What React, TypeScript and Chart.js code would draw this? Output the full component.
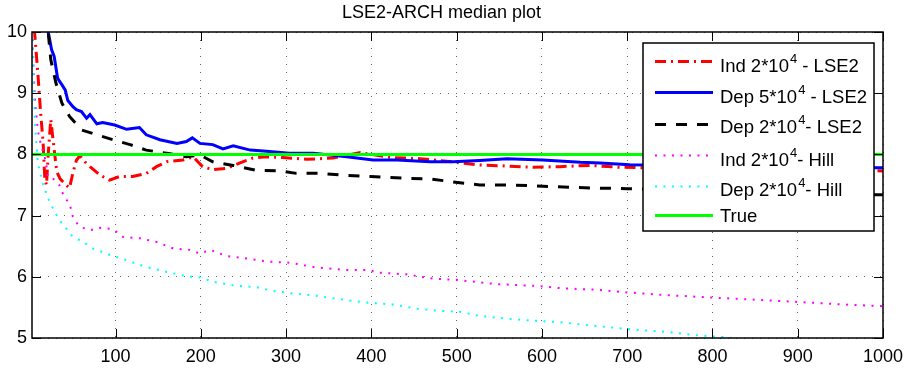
import React, { useEffect, useRef } from 'react';
import { Chart, registerables } from 'chart.js';

Chart.register(...registerables);

const TITLE = 'LSE2-ARCH median plot';
const X_TICKS = [100, 200, 300, 400, 500, 600, 700, 800, 900, 1000];
const Y_TICKS = [5, 6, 7, 8, 9, 10];
const X_MIN = 2;
const X_MAX = 1000;
const Y_MIN = 5;
const Y_MAX = 10;

// Ind 2*10^4 - LSE2 (red dash-dot)
const indLseX = [3, 5, 9, 12, 15, 17, 19, 21, 24, 27, 31, 35, 42, 46, 50, 54, 58, 64, 70, 82, 93, 105, 120, 136, 148, 160, 179, 191, 202, 214, 230, 246, 261, 277, 296, 324, 355, 387, 422, 457, 488, 523, 559, 590, 621, 656, 691, 730, 780, 830, 880, 940, 1000];
const indLseY = [10.8, 10.0, 9.3, 8.7, 8.2, 7.6, 7.5, 8.0, 8.57, 8.2, 7.72, 7.6, 7.5, 7.45, 7.7, 7.9, 7.98, 7.88, 7.8, 7.66, 7.58, 7.64, 7.64, 7.69, 7.8, 7.88, 7.91, 7.96, 7.8, 7.75, 7.77, 7.86, 7.94, 7.96, 7.95, 7.92, 7.94, 8.03, 7.95, 7.93, 7.89, 7.83, 7.81, 7.79, 7.8, 7.82, 7.79, 7.78, 7.8, 7.78, 7.76, 7.75, 7.73];

// Dep 5*10^4 - LSE2 (blue solid)
const dep5LseX = [15, 21, 25, 28, 32, 34, 37, 41, 44, 50, 54, 60, 66, 70, 78, 85, 99, 113, 128, 136, 152, 172, 183, 190, 199, 214, 226, 238, 258, 277, 304, 332, 371, 402, 430, 469, 496, 527, 559, 601, 645, 668, 703, 760, 820, 880, 1000];
const dep5LseY = [11.0, 10.0, 9.71, 9.6, 9.25, 9.2, 9.14, 9.05, 8.88, 8.78, 8.73, 8.7, 8.59, 8.65, 8.5, 8.52, 8.48, 8.41, 8.44, 8.32, 8.24, 8.18, 8.21, 8.27, 8.18, 8.16, 8.09, 8.14, 8.07, 8.05, 8.02, 8.02, 7.96, 7.91, 7.91, 7.88, 7.88, 7.9, 7.93, 7.91, 7.87, 7.86, 7.83, 7.82, 7.81, 7.79, 7.78];

// Dep 2*10^4 - LSE2 (black dashed)
const dep2LseX = [15, 21, 24, 30, 37, 46, 60, 78, 97, 117, 136, 164, 183, 199, 214, 238, 265, 293, 312, 340, 367, 399, 441, 469, 496, 527, 566, 601, 637, 664, 700, 760, 820, 880, 1000];
const dep2LseY = [11.0, 10.0, 9.55, 9.17, 8.84, 8.62, 8.4, 8.32, 8.24, 8.16, 8.07, 8.01, 7.96, 7.99, 7.88, 7.82, 7.74, 7.73, 7.69, 7.69, 7.66, 7.64, 7.61, 7.6, 7.55, 7.5, 7.5, 7.48, 7.46, 7.45, 7.44, 7.42, 7.39, 7.36, 7.34];

// Ind 2*10^4 - Hill (magenta dotted)
const indHillX = [2, 4, 6, 9, 12, 18, 21, 27, 34, 40, 46, 50, 56, 62, 70, 82, 97, 109, 128, 148, 168, 187, 199, 211, 230, 254, 277, 305, 332, 371, 398, 406, 441, 472, 500, 547, 594, 625, 664, 695, 746, 801, 844, 899, 950, 1000];
const indHillY = [10.3, 9.3, 8.8, 8.38, 8.19, 7.9, 7.62, 7.6, 7.5, 7.3, 7.2, 6.98, 6.85, 6.8, 6.76, 6.8, 6.78, 6.65, 6.63, 6.57, 6.46, 6.44, 6.38, 6.44, 6.34, 6.3, 6.25, 6.23, 6.16, 6.11, 6.11, 6.07, 6.04, 5.97, 5.95, 5.88, 5.85, 5.81, 5.79, 5.75, 5.7, 5.66, 5.63, 5.59, 5.55, 5.52];

// Dep 2*10^4 - Hill (cyan dotted)
const depHillX = [2, 4, 6, 9, 13, 15, 20, 24, 34, 42, 50, 62, 74, 93, 113, 136, 160, 183, 199, 214, 238, 265, 285, 312, 324, 371, 393, 424, 453, 484, 504, 523, 562, 594, 621, 652, 684, 713, 746, 785, 818, 835];
const depHillY = [10.3, 9.0, 8.4, 7.85, 7.62, 7.5, 7.32, 7.18, 6.93, 6.79, 6.65, 6.57, 6.46, 6.36, 6.27, 6.16, 6.08, 6.01, 5.99, 5.92, 5.86, 5.83, 5.77, 5.72, 5.71, 5.62, 5.58, 5.55, 5.48, 5.44, 5.43, 5.37, 5.31, 5.28, 5.26, 5.21, 5.17, 5.13, 5.1, 5.04, 5.01, 4.97];

// True value (green)
const trueX = [2, 1000];
const trueY = [8, 8];

const LEGEND_MAIN = ['Ind 2*10', 'Dep 5*10', 'Dep 2*10', 'Ind 2*10', 'Dep 2*10', 'True'];
const LEGEND_SUP = ['4', '4', '4', '4', '4', ''];
const LEGEND_TAIL = [' - LSE2', ' - LSE2', '- LSE2', '- Hill', '- Hill', ''];

const FONT = '"Liberation Sans", Arial, Helvetica, sans-serif';

const toPts = (xs: number[], ys: number[]) => xs.map((x, i) => ({ x, y: ys[i] }));

const STYLES = [
  { color: '#ff0000', width: 3, dash: [11, 5, 2, 5] },
  { color: '#0000ff', width: 3, dash: [] as number[] },
  { color: '#000000', width: 3, dash: [11, 10] },
  { color: '#ff00ff', width: 2, dash: [2, 6.5] },
  { color: '#00ffff', width: 2, dash: [2, 6.5] },
  { color: '#00ff00', width: 3, dash: [] as number[] },
];

const framePlugin = {
  id: 'frameTicks',
  afterDatasetsDraw(chart: any) {
    const { ctx, chartArea: a, scales } = chart;
    ctx.save();
    ctx.setLineDash([]);
    ctx.strokeStyle = '#000';
    ctx.lineWidth = 1.5;
    ctx.strokeRect(a.left, a.top, a.right - a.left, a.bottom - a.top);
    const L = 9;
    ctx.lineWidth = 1;
    ctx.beginPath();
    for (const v of X_TICKS) {
      const px = Math.round(scales.x.getPixelForValue(v)) + 0.5;
      ctx.moveTo(px, a.bottom);
      ctx.lineTo(px, a.bottom - L);
      ctx.moveTo(px, a.top);
      ctx.lineTo(px, a.top + L);
    }
    for (const v of Y_TICKS) {
      const py = Math.round(scales.y.getPixelForValue(v)) + 0.5;
      ctx.moveTo(a.left, py);
      ctx.lineTo(a.left + L, py);
      ctx.moveTo(a.right, py);
      ctx.lineTo(a.right - L, py);
    }
    ctx.stroke();
    ctx.restore();
  },
};

const legendPlugin = {
  id: 'matlabLegend',
  afterDraw(chart: any) {
    const ctx = chart.ctx;
    const box = { x: 643, y: 43, w: 231, h: 188 };
    const lineY = [61.5, 92.5, 124.5, 155.5, 186.5, 215.5];
    const baseY = [72, 103, 133, 166, 196, 222];
    ctx.save();
    ctx.fillStyle = '#fff';
    ctx.fillRect(box.x, box.y, box.w, box.h);
    ctx.strokeStyle = '#000';
    ctx.lineWidth = 1.5;
    ctx.setLineDash([]);
    ctx.strokeRect(box.x, box.y, box.w, box.h);
    for (let i = 0; i < LEGEND_MAIN.length; i++) {
      const st = STYLES[i];
      ctx.strokeStyle = st.color;
      ctx.lineWidth = st.width;
      ctx.setLineDash(st.dash);
      ctx.beginPath();
      ctx.moveTo(655, lineY[i]);
      ctx.lineTo(713, lineY[i]);
      ctx.stroke();
      ctx.setLineDash([]);
      ctx.fillStyle = '#000';
      ctx.textBaseline = 'alphabetic';
      ctx.textAlign = 'left';
      ctx.font = `18.5px ${FONT}`;
      let x = 720;
      ctx.fillText(LEGEND_MAIN[i], x, baseY[i]);
      x += ctx.measureText(LEGEND_MAIN[i]).width + 1;
      if (LEGEND_SUP[i]) {
        ctx.font = `13px ${FONT}`;
        ctx.fillText(LEGEND_SUP[i], x, baseY[i] - 9);
        x += ctx.measureText(LEGEND_SUP[i]).width;
        ctx.font = `18.5px ${FONT}`;
      }
      if (LEGEND_TAIL[i]) ctx.fillText(LEGEND_TAIL[i], x, baseY[i]);
    }
    ctx.restore();
  },
};

export default function App() {
  const ref = useRef<HTMLCanvasElement | null>(null);
  useEffect(() => {
    if (!ref.current) return;
    const labels = ['Ind 2*10^4 - LSE2', 'Dep 5*10^4 - LSE2', 'Dep 2*10^4- LSE2', 'Ind 2*10^4- Hill', 'Dep 2*10^4- Hill', 'True'];
    const series = [
      toPts(indLseX, indLseY),
      toPts(dep5LseX, dep5LseY),
      toPts(dep2LseX, dep2LseY),
      toPts(indHillX, indHillY),
      toPts(depHillX, depHillY),
      toPts(trueX, trueY),
    ];
    const orders = [6, 5, 4, 3, 2, 1];
    const datasets = series.map((data, i) => ({
      label: labels[i],
      data,
      borderColor: STYLES[i].color,
      backgroundColor: STYLES[i].color,
      borderWidth: STYLES[i].width,
      borderDash: STYLES[i].dash,
      pointRadius: 0,
      tension: 0,
      fill: false,
      order: orders[i],
    }));
    const tickFont = { family: FONT, size: 18 };
    const chart = new Chart(ref.current, {
      type: 'line',
      data: { datasets },
      options: {
        animation: false,
        responsive: false,
        devicePixelRatio: 1,
        layout: { padding: { left: 0, right: 29, top: 0, bottom: 0 } },
        plugins: {
          legend: { display: false },
          tooltip: { enabled: false },
          title: {
            display: true,
            text: TITLE,
            color: '#000',
            font: { family: FONT, size: 18, weight: 'normal', lineHeight: 1.2 },
            padding: { top: 2, bottom: 8.4 },
          },
        },
        scales: {
          x: {
            type: 'linear',
            min: X_MIN,
            max: X_MAX,
            afterBuildTicks: (s: any) => {
              s.ticks = X_TICKS.map((v) => ({ value: v }));
            },
            afterFit: (s: any) => {
              s.height = 30;
            },
            grid: { color: 'rgba(0,0,0,0.6)', lineWidth: 1, drawTicks: false },
            border: { display: false, dash: [1, 7] },
            ticks: {
              font: tickFont,
              color: '#000',
              padding: 8,
              maxRotation: 0,
              autoSkip: false,
              callback: (v: any) => String(v),
            },
          },
          y: {
            type: 'linear',
            min: Y_MIN,
            max: Y_MAX,
            afterBuildTicks: (s: any) => {
              s.ticks = Y_TICKS.map((v) => ({ value: v }));
            },
            afterFit: (s: any) => {
              s.width = 32;
            },
            grid: { color: 'rgba(0,0,0,0.6)', lineWidth: 1, drawTicks: false },
            border: { display: false, dash: [1, 7] },
            ticks: { font: tickFont, color: '#000', padding: 5, callback: (v: any) => String(v) },
          },
        },
      } as any,
      plugins: [framePlugin, legendPlugin],
    });
    return () => chart.destroy();
  }, []);
  return (
    <div style={{ position: 'fixed', left: 0, top: 0, width: 912, height: 368, background: '#fff' }}>
      <canvas ref={ref} width={912} height={368} style={{ width: 912, height: 368, display: 'block' }} />
    </div>
  );
}
